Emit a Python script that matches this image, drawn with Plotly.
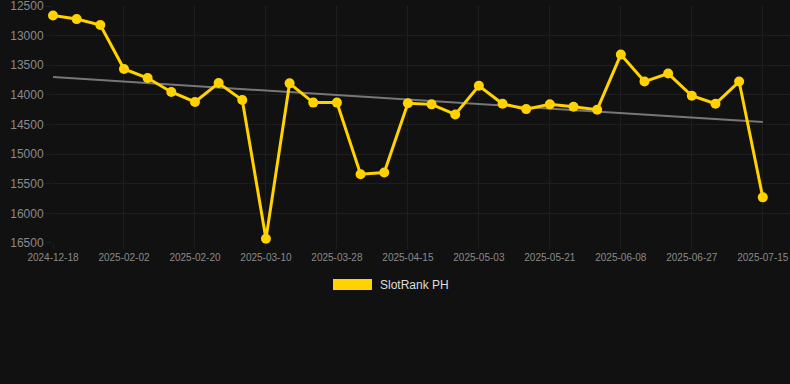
import numpy as np
import plotly.graph_objects as go

dates = [
    "2024-12-18", "2025-01-21", "2025-01-27",
    "2025-02-02", "2025-02-08", "2025-02-14",
    "2025-02-20", "2025-02-26", "2025-03-04",
    "2025-03-10", "2025-03-16", "2025-03-22",
    "2025-03-28", "2025-04-03", "2025-04-09",
    "2025-04-15", "2025-04-21", "2025-04-27",
    "2025-05-03", "2025-05-09", "2025-05-15",
    "2025-05-21", "2025-05-27", "2025-06-02",
    "2025-06-08", "2025-06-14", "2025-06-21",
    "2025-06-27", "2025-07-03", "2025-07-09",
    "2025-07-15",
]
rank_ph = [
    12660, 12720, 12820, 13563, 13715, 13950, 14120, 13800, 14087, 16430,
    13805, 14130, 14130, 15340, 15310, 14140, 14160, 14330, 13845, 14150,
    14240, 14160, 14200, 14250, 13320, 13775, 13640, 14015, 14150, 13775,
    15730,
]
tick_labels = dates[::3]
y_ticks = [12500, 13000, 13500, 14000, 14500, 15000, 15500, 16000, 16500]
series_name = "SlotRank PH"

YELLOW = "#FFD200"
BG = "#111111"
GRID = "#1e1e1e"
TICKFONT = "#8a8a8a"

idx = np.arange(len(rank_ph))
slope, intercept = np.polyfit(idx, rank_ph, 1)
trend = [intercept + slope * i for i in idx]

fig = go.Figure()
fig.add_trace(go.Scatter(
    x=dates, y=trend, mode="lines",
    line=dict(color="#777777", width=2),
    hoverinfo="skip", showlegend=False, cliponaxis=False,
))
fig.add_trace(go.Scatter(
    x=dates, y=rank_ph, mode="lines+markers", name=series_name,
    line=dict(color=YELLOW, width=3),
    marker=dict(color=YELLOW, size=10),
    showlegend=False, cliponaxis=False,
))

fig.update_layout(
    width=790, height=384,
    paper_bgcolor=BG, plot_bgcolor=BG,
    margin=dict(l=53, r=0, t=6, b=141),
    font=dict(family="Liberation Sans, Arial, sans-serif"),
    showlegend=False,
    xaxis=dict(
        type="category",
        range=[0, 31.15],
        tickmode="array", tickvals=tick_labels, ticktext=tick_labels,
        tickfont=dict(size=10, color=TICKFONT),
        showgrid=True, gridcolor=GRID, gridwidth=1,
        ticks="outside", ticklen=5, tickcolor=GRID,
        showline=False, zeroline=False,
    ),
    yaxis=dict(
        range=[16501, 12499],
        tickmode="array", tickvals=y_ticks,
        ticktext=[str(v) for v in y_ticks],
        tickfont=dict(size=12, color=TICKFONT),
        ticklabeloverflow="allow",
        showgrid=True, gridcolor=GRID, gridwidth=1,
        ticks="outside", ticklen=6, tickcolor=GRID,
        showline=False, zeroline=False,
    ),
    shapes=[dict(
        type="rect", xref="paper", yref="paper",
        x0=(333 - 53) / 737, x1=(372 - 53) / 737,
        y0=(243 - 290) / 237, y1=(243 - 279) / 237,
        fillcolor=YELLOW, line=dict(width=0),
    )],
    annotations=[dict(
        text=series_name, xref="paper", yref="paper",
        x=(378 - 53) / 737, y=(243 - 285) / 237,
        xanchor="left", yanchor="middle", showarrow=False,
        font=dict(size=12, color="#dddddd"),
    )],
)

fig.write_html(
    "out.html",
    config={"displayModeBar": False},
    post_script="document.body.style.margin='0';document.body.style.background='#111111';",
)
